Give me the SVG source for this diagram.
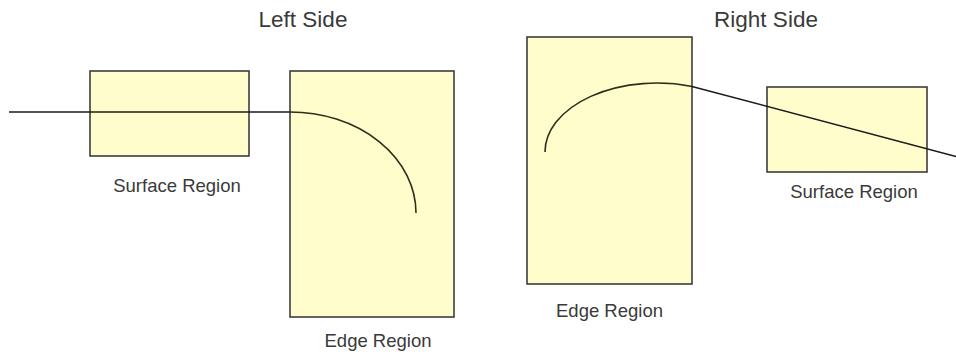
<svg xmlns="http://www.w3.org/2000/svg" width="956" height="354" viewBox="0 0 956 354">
<style>
.box{fill:#FFFDCB;stroke:#3d3d3d;stroke-width:1.6}
.ln{fill:none;stroke:#1a1a1a;stroke-width:1.5}
.crv{fill:none;stroke:#2e2e1a;stroke-width:1.6}
.t{font-family:"Liberation Sans",Arial,sans-serif;fill:#3a3a3a;text-anchor:middle}
.h{font-size:22.5px}
.l{font-size:18.5px}
</style>
<rect width="956" height="354" fill="#ffffff"/>
<text class="t h" x="303" y="27">Left Side</text>
<text class="t h" x="766" y="27">Right Side</text>
<g id="left-surface">
<rect class="box" x="90" y="71" width="159" height="85"/>
<text class="t l" x="177" y="192">Surface Region</text>
</g>
<g id="left-edge">
<rect class="box" x="290" y="71" width="164" height="246"/>
<text class="t l" x="378" y="347">Edge Region</text>
</g>
<g id="right-edge">
<rect class="box" x="527" y="37" width="165" height="247"/>
<text class="t l" x="609.5" y="317">Edge Region</text>
</g>
<g id="right-surface">
<rect class="box" x="767" y="87" width="160" height="85"/>
<text class="t l" x="854" y="198">Surface Region</text>
</g>
<g id="connectors">
<line class="ln" x1="9" y1="112" x2="290" y2="112"/>
<path class="crv" d="M290,112 A126,101 0 0 1 416,213"/>
<path class="crv" d="M545,152 A112,69 0 0 1 692,86.5"/>
<line class="ln" x1="692" y1="86.5" x2="956" y2="156.5"/>
</g>
</svg>
